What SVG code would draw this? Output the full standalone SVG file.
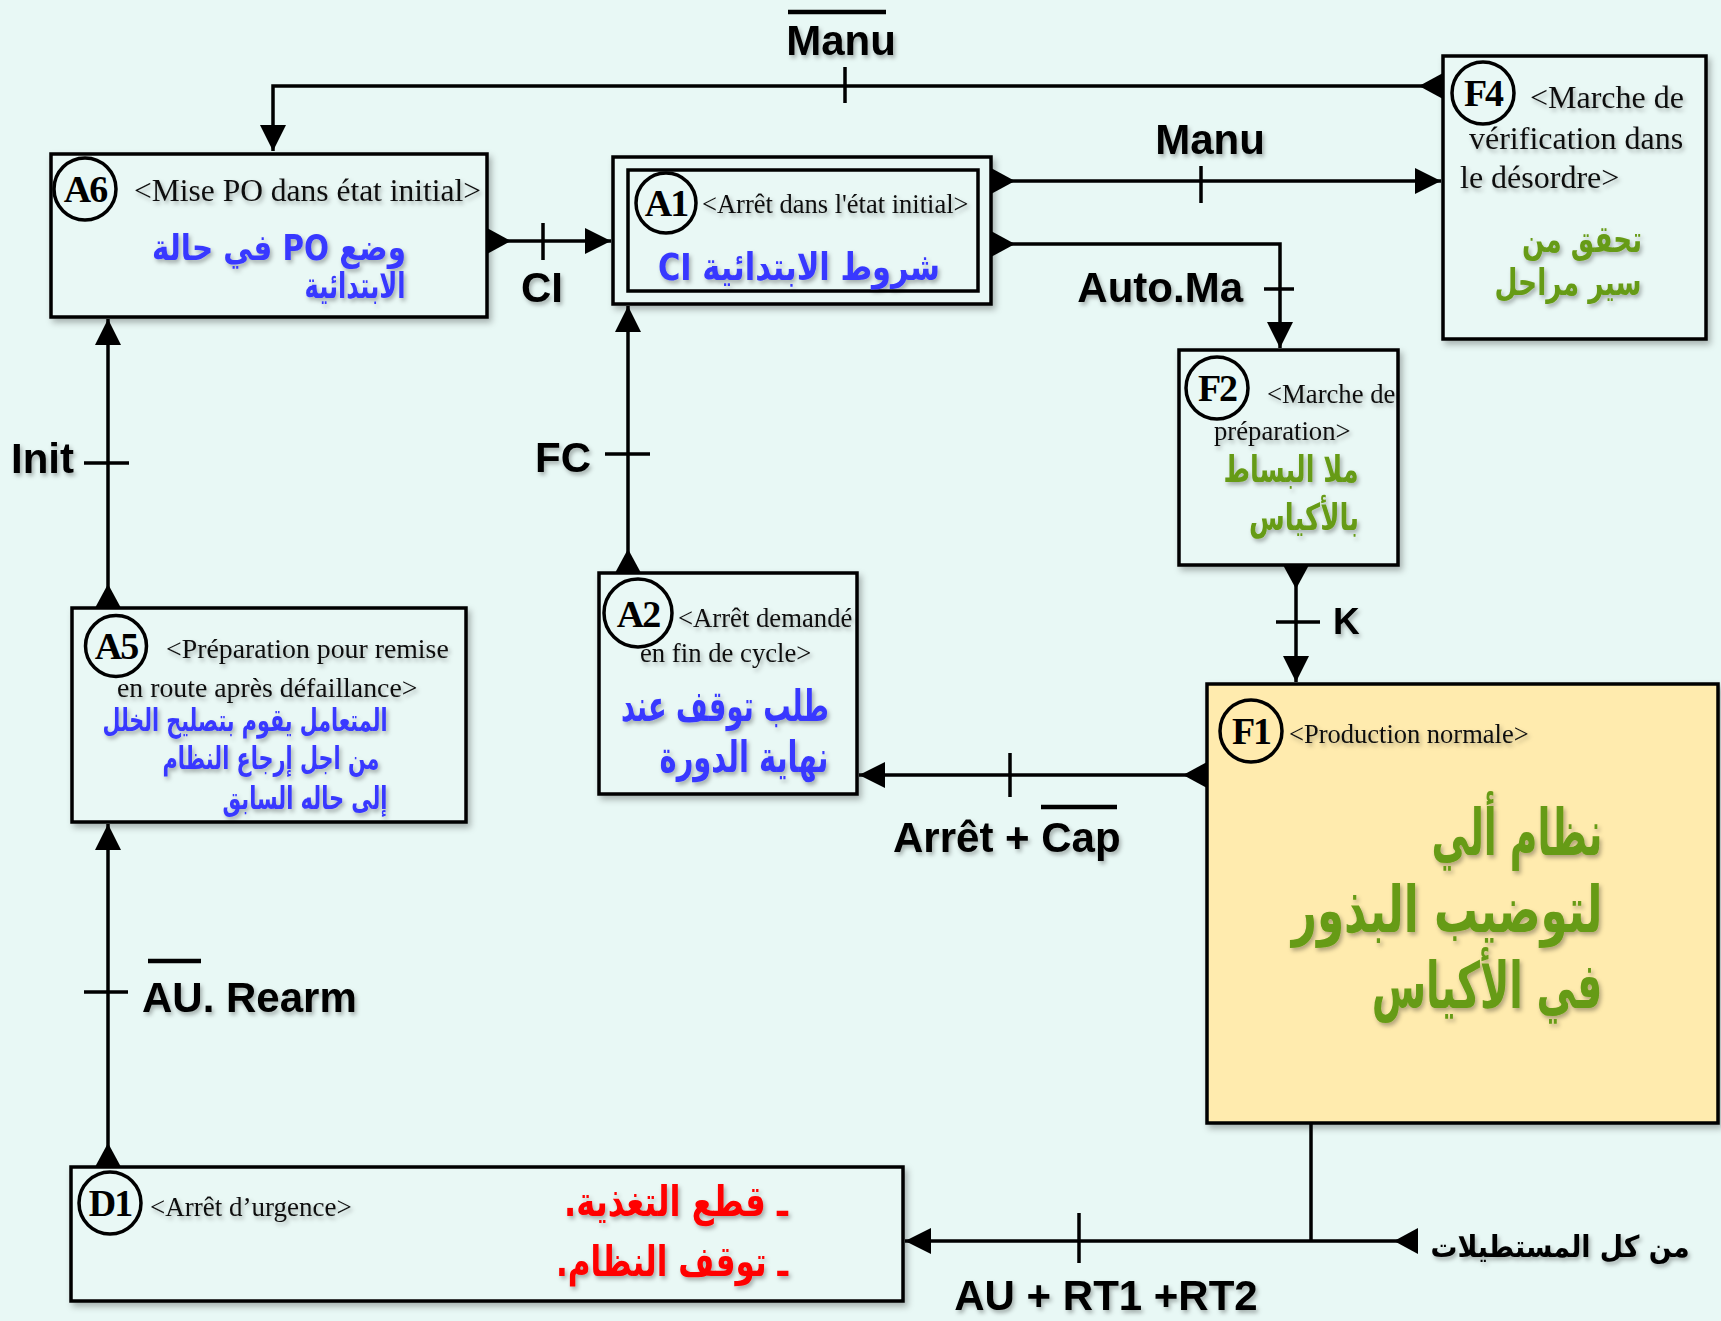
<svg xmlns="http://www.w3.org/2000/svg" width="1721" height="1321" viewBox="0 0 1721 1321">
<defs>
<style>
.box{fill:#E9F8F5;stroke:#000;stroke-width:3.5;filter:url(#bs)}
.f1{fill:#FFEBAE}
.c{fill:none;stroke:#000;stroke-width:3.5}
.cl{fill:none;stroke:#000;stroke-width:3.5}
.tk{stroke:#000;stroke-width:3.5}
.ov{stroke:#000;stroke-width:4.5}
.fr{font-family:"Liberation Serif","Times New Roman",serif;fill:#111;filter:url(#ts)}
.id{font-family:"Liberation Serif","Times New Roman",serif;font-weight:bold;font-size:38px;fill:#000;text-anchor:middle;letter-spacing:-2px}
.lb{font-family:"Liberation Sans",Arial,sans-serif;font-weight:bold;font-size:42px;fill:#000;filter:url(#ts)}
.ar{font-family:"DejaVu Sans",sans-serif;font-weight:bold;direction:rtl;text-anchor:middle;filter:url(#ts)}
.ars{font-family:"DejaVu Sans",sans-serif;font-weight:bold;direction:rtl;text-anchor:middle}
.shg{filter:url(#ts)}
.blue{fill:#3838FF}
.green{fill:#669B14}
.red{fill:#FF0000}
.blk{fill:#000}
</style>
<filter id="bs" filterUnits="userSpaceOnUse" x="0" y="0" width="1721" height="1321"><feDropShadow dx="3" dy="4" stdDeviation="3" flood-color="#000" flood-opacity="0.28"/></filter>
<filter id="ts" filterUnits="userSpaceOnUse" x="0" y="0" width="1721" height="1321"><feDropShadow dx="2" dy="3" stdDeviation="2" flood-color="#000" flood-opacity="0.3"/></filter>
<marker id="arr" viewBox="0 0 26 26" refX="26" refY="13" markerWidth="26" markerHeight="26" markerUnits="userSpaceOnUse" orient="auto"><path d="M0,0L26,13L0,26z" fill="#000"/></marker>
<marker id="dep" viewBox="0 0 24 26" refX="0" refY="13" markerWidth="24" markerHeight="26" markerUnits="userSpaceOnUse" orient="auto"><path d="M0,0L24,13L0,26z" fill="#000"/></marker>
</defs>
<rect width="1721" height="1321" fill="#E8F8F5"/>

<g id="connectors">
<path class="c" d="M1443,86H273V151" marker-start="url(#dep)" marker-end="url(#arr)"/>
<line class="tk" x1="845" y1="67" x2="845" y2="103"/>
<path class="c" d="M991,181H1441" marker-start="url(#dep)" marker-end="url(#arr)"/>
<line class="tk" x1="1201" y1="166" x2="1201" y2="203"/>
<path class="c" d="M991,244H1280V348" marker-start="url(#dep)" marker-end="url(#arr)"/>
<line class="tk" x1="1264" y1="289" x2="1294" y2="289"/>
<path class="c" d="M487,241H611" marker-start="url(#dep)" marker-end="url(#arr)"/>
<line class="tk" x1="543" y1="223" x2="543" y2="260"/>
<path class="c" d="M108,608V319" marker-start="url(#dep)" marker-end="url(#arr)"/>
<line class="tk" x1="84" y1="463" x2="129" y2="463"/>
<path class="c" d="M628,573V306" marker-start="url(#dep)" marker-end="url(#arr)"/>
<line class="tk" x1="605" y1="454" x2="650" y2="454"/>
<path class="c" d="M1296,565V682" marker-start="url(#dep)" marker-end="url(#arr)"/>
<line class="tk" x1="1276" y1="622" x2="1320" y2="622"/>
<path class="c" d="M1207,775H859" marker-start="url(#dep)" marker-end="url(#arr)"/>
<line class="tk" x1="1010" y1="753" x2="1010" y2="797"/>
<path class="c" d="M108,1167V824" marker-start="url(#dep)" marker-end="url(#arr)"/>
<line class="tk" x1="84" y1="992" x2="128" y2="992"/>
<path class="cl" d="M1311,1124V1241"/>
<path class="c" d="M1418,1241H905" marker-start="url(#dep)" marker-end="url(#arr)"/>
<line class="tk" x1="1079" y1="1213" x2="1079" y2="1263"/>

<text class="lb" x="841" y="55" text-anchor="middle">Manu</text>
<line class="ov" x1="788" y1="12" x2="886" y2="12"/>
<text class="lb" x="1210" y="154" text-anchor="middle">Manu</text>
<text class="lb" x="1243" y="302" text-anchor="end">Auto.Ma</text>
<text class="lb" x="542" y="302" text-anchor="middle">CI</text>
<text class="lb" x="74" y="473" text-anchor="end">Init</text>
<text class="lb" x="591" y="472" text-anchor="end">FC</text>
<text class="lb" x="1333" y="634" style="font-size:37px">K</text>
<text class="lb" x="893" y="852">Arrêt + Cap</text>
<line class="ov" x1="1041" y1="807" x2="1117" y2="807"/>
<text class="lb" x="142" y="1012">AU. Rearm</text>
<line class="ov" x1="148" y1="961" x2="201" y2="961"/>
<text class="lb" x="1106" y="1310" text-anchor="middle">AU + RT1 +RT2</text>
<text class="ar blk" x="1560" y="1257" style="font-size:30px" textLength="259" lengthAdjust="spacingAndGlyphs">من كل المستطيلات</text>
</g>

<g id="A6">
<rect class="box" x="51" y="154" width="436" height="163"/>
<circle cx="85" cy="189" r="31" fill="none" stroke="#000" stroke-width="3.5"/>
<text class="id" x="85" y="202">A6</text>
<text class="fr" x="134" y="201" style="font-size:31.5px">&lt;Mise PO dans état initial&gt;</text>
<text class="ar blue" x="279" y="260" style="font-size:36px" textLength="254" lengthAdjust="spacingAndGlyphs">وضع  PO  في حالة</text>
<text class="ar blue" x="355" y="298" style="font-size:36px" textLength="101" lengthAdjust="spacingAndGlyphs">الابتدائية</text>
</g>

<g id="A1">
<rect class="box" x="613" y="157" width="378" height="147"/>
<rect x="628" y="170" width="350" height="121" fill="none" stroke="#000" stroke-width="3.5"/>
<circle cx="666" cy="203" r="30" fill="none" stroke="#000" stroke-width="3.5"/>
<text class="id" x="666" y="216">A1</text>
<text class="fr" x="702" y="213" style="font-size:26.5px">&lt;Arrêt dans l'état initial&gt;</text>
<text class="ar blue" x="799" y="280" style="font-size:38px" textLength="282" lengthAdjust="spacingAndGlyphs">شروط  الابتدائية CI</text>
</g>

<g id="F4">
<rect class="box" x="1443" y="56" width="263" height="283"/>
<circle cx="1483" cy="93" r="31" fill="none" stroke="#000" stroke-width="3.5"/>
<text class="id" x="1483" y="106">F4</text>
<text class="fr" x="1530" y="108" style="font-size:32px">&lt;Marche de</text>
<text class="fr" x="1469" y="149" style="font-size:32px">vérification dans</text>
<text class="fr" x="1460" y="188" style="font-size:32px">le désordre&gt;</text>
<text class="ar green" x="1582" y="252" style="font-size:37px" textLength="120" lengthAdjust="spacingAndGlyphs">تحقق من</text>
<text class="ar green" x="1568" y="295" style="font-size:37px" textLength="147" lengthAdjust="spacingAndGlyphs">سير مراحل</text>
</g>

<g id="F2">
<rect class="box" x="1179" y="350" width="219" height="215"/>
<circle cx="1217" cy="388" r="31" fill="none" stroke="#000" stroke-width="3.5"/>
<text class="id" x="1217" y="401">F2</text>
<text class="fr" x="1267" y="403" style="font-size:26.7px">&lt;Marche de</text>
<text class="fr" x="1214" y="440" style="font-size:26.7px">préparation&gt;</text>
<text class="ar green" x="1291" y="482" style="font-size:37px" textLength="135" lengthAdjust="spacingAndGlyphs">ملا البساط</text>
<text class="ar green" x="1304" y="530" style="font-size:37px" textLength="110" lengthAdjust="spacingAndGlyphs">بالأكياس</text>
</g>

<g id="F1">
<rect class="box f1" x="1207" y="684" width="511" height="439"/>
<circle cx="1251" cy="731" r="31" fill="none" stroke="#000" stroke-width="3.5"/>
<text class="id" x="1251" y="744">F1</text>
<text class="fr" x="1289" y="743" style="font-size:26.5px">&lt;Production normale&gt;</text>
<g class="shg">
<text class="ars green" transform="translate(1517,855) scale(0.65,1)" x="0" y="0" style="font-size:64px" textLength="263" lengthAdjust="spacingAndGlyphs">نظام ألي</text>
<text class="ars green" transform="translate(1447,932) scale(0.65,1)" x="0" y="0" style="font-size:64px" textLength="478" lengthAdjust="spacingAndGlyphs">لتوضيب البذور</text>
<text class="ars green" transform="translate(1487,1008) scale(0.65,1)" x="0" y="0" style="font-size:64px" textLength="355" lengthAdjust="spacingAndGlyphs">في الأكياس</text>
</g>
</g>

<g id="A2">
<rect class="box" x="599" y="573" width="258" height="221"/>
<circle cx="638" cy="613" r="34" fill="none" stroke="#000" stroke-width="3.5"/>
<text class="id" x="638" y="627">A2</text>
<text class="fr" x="678" y="627" style="font-size:26.7px">&lt;Arrêt demandé</text>
<text class="fr" x="640" y="662" style="font-size:26.7px">en fin de cycle&gt;</text>
<text class="ar blue" x="725" y="721" style="font-size:43px" textLength="208" lengthAdjust="spacingAndGlyphs">طلب توقف عند</text>
<text class="ar blue" x="744" y="772" style="font-size:43px" textLength="169" lengthAdjust="spacingAndGlyphs">نهاية الدورة</text>
</g>

<g id="A5">
<rect class="box" x="72" y="608" width="394" height="214"/>
<circle cx="116" cy="646" r="30.5" fill="none" stroke="#000" stroke-width="3.5"/>
<text class="id" x="116" y="659">A5</text>
<text class="fr" x="166" y="658" style="font-size:27.8px">&lt;Préparation pour remise</text>
<text class="fr" x="117" y="697" style="font-size:27.8px">en route après défaillance&gt;</text>
<text class="ar blue" x="245" y="731" style="font-size:31px" textLength="285" lengthAdjust="spacingAndGlyphs">المتعامل يقوم بتصليح الخلل</text>
<text class="ar blue" x="271" y="769" style="font-size:31px" textLength="217" lengthAdjust="spacingAndGlyphs">من اجل إرجاع النظام</text>
<text class="ar blue" x="305" y="809" style="font-size:31px" textLength="165" lengthAdjust="spacingAndGlyphs">إلى حاله السابق</text>
</g>

<g id="D1">
<rect class="box" x="71" y="1167" width="832" height="134"/>
<circle cx="110" cy="1203" r="31" fill="none" stroke="#000" stroke-width="3.5"/>
<text class="id" x="110" y="1216">D1</text>
<text class="fr" x="150" y="1216" style="font-size:27px">&lt;Arrêt d’urgence&gt;</text>
<text class="ar red" x="676" y="1216" style="font-size:42px" textLength="224" lengthAdjust="spacingAndGlyphs">ـ قطع التغذية.</text>
<text class="ar red" x="672" y="1276" style="font-size:42px" textLength="232" lengthAdjust="spacingAndGlyphs">ـ توقف النظام.</text>
</g>
</svg>
